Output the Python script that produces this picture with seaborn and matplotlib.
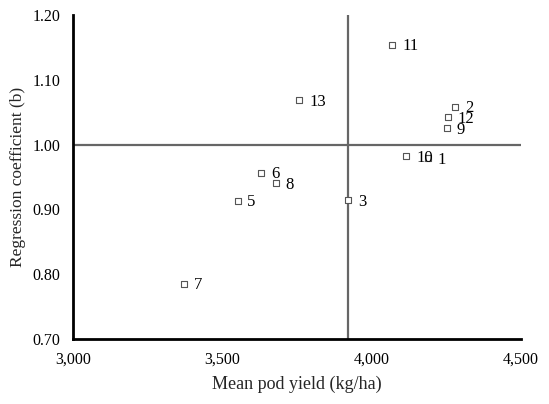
import matplotlib
matplotlib.use("Agg")
import matplotlib.pyplot as plt
import seaborn as sns
import pandas as pd
from matplotlib.ticker import FuncFormatter

genotypes = ["1", "2", "3", "5", "6", "7", "8", "9", "10", "11", "12", "13"]
mean_yield = [4189, 4280, 3922, 3551, 3631, 3371, 3678, 4253, 4116, 4069, 4256, 3758]
reg_coef = [0.979, 1.058, 0.914, 0.913, 0.956, 0.785, 0.940, 1.025, 0.982, 1.154, 1.042, 1.068]
grand_mean_yield = 3922
ref_b = 1.00

df = pd.DataFrame({"g": genotypes, "x": mean_yield, "y": reg_coef})

sns.set_style("white")
plt.rcParams["font.family"] = ["Liberation Serif", "DejaVu Serif"]

fig = plt.figure(figsize=(5.49, 4.04), dpi=100)
ax = fig.add_axes([0.133, 0.161, 0.816, 0.802])

ax.axvline(grand_mean_yield, color="#666666", lw=1.6, zorder=1)
ax.axhline(ref_b, color="#666666", lw=1.6, zorder=1)

sns.scatterplot(data=df, x="x", y="y", ax=ax, marker="s", s=18,
                facecolor="white", edgecolor="#555555", linewidth=0.8, zorder=3)

for g, xv, yv in zip(df["g"], df["x"], df["y"]):
    ax.annotate(g, (xv, yv), xytext=(7, -1), textcoords="offset points",
                ha="left", va="center", fontsize=12, color="black")

ax.set_xlim(3000, 4500)
ax.set_ylim(0.70, 1.20)
ax.set_xticks([3000, 3500, 4000, 4500])
ax.set_yticks([0.70, 0.80, 0.90, 1.00, 1.10, 1.20])
ax.xaxis.set_major_formatter(FuncFormatter(lambda v, p: f"{int(v):,}"))
ax.yaxis.set_major_formatter(FuncFormatter(lambda v, p: f"{v:.2f}"))

for s in ["top", "right"]:
    ax.spines[s].set_visible(False)
for s in ["left", "bottom"]:
    ax.spines[s].set_color("black")
    ax.spines[s].set_linewidth(2)

ax.tick_params(axis="both", direction="in", length=4, width=2, labelsize=11.5, colors="black")
ax.tick_params(axis="x", pad=9)
ax.tick_params(axis="y", pad=9)

ax.set_xlabel("Mean pod yield (kg/ha)", fontsize=13, labelpad=6)
ax.set_ylabel("Regression coefficient (b)", fontsize=12.5, labelpad=5)

fig.savefig("out.png", dpi=100)
